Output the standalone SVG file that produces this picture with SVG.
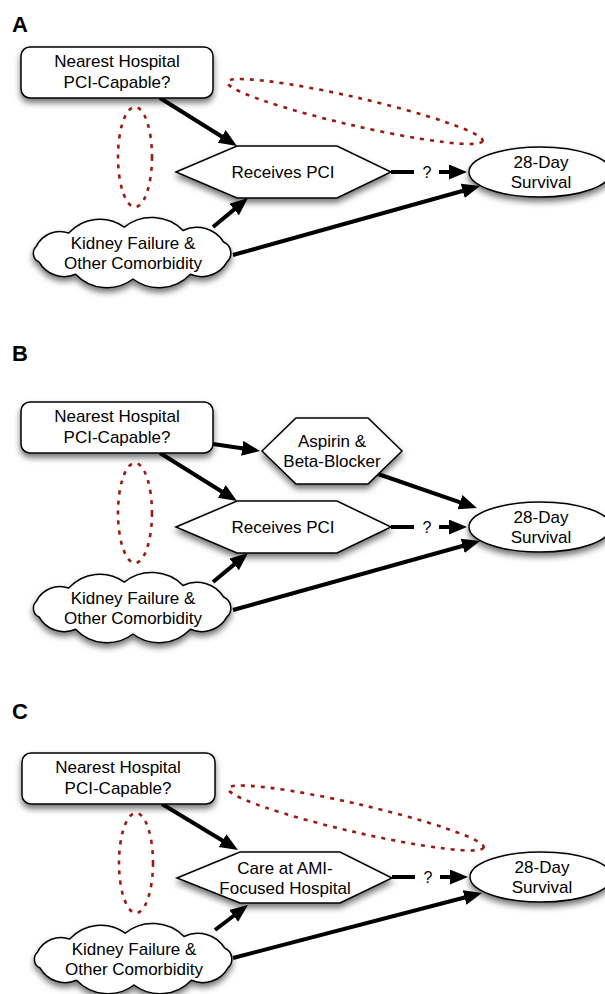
<svg xmlns="http://www.w3.org/2000/svg" xmlns:xlink="http://www.w3.org/1999/xlink" width="605" height="994" viewBox="0 0 605 994">
<style>
.t{font-family:"Liberation Sans",Arial,sans-serif;font-size:17px;text-anchor:middle;fill:#000}
.q{font-family:"Liberation Sans",Arial,sans-serif;font-size:16px;text-anchor:middle;fill:#000}
.lbl{font-family:"Liberation Sans",Arial,sans-serif;font-size:22px;font-weight:bold;fill:#000}
.n{fill:#fff;stroke:#000;stroke-width:1.5;filter:url(#sh)}
.e{stroke:#000;stroke-width:4;fill:none;marker-end:url(#ah)}
.s{stroke:#000;stroke-width:4;fill:none}
.d{fill:none;stroke:#9a1a10;stroke-width:2.6;stroke-dasharray:4 6}
</style>
<defs>
<filter id="sh" x="-20%" y="-30%" width="140%" height="170%">
<feDropShadow dx="0" dy="4" stdDeviation="3" flood-color="#000" flood-opacity="0.55"/>
</filter>
<marker id="ah" markerUnits="userSpaceOnUse" markerWidth="20" markerHeight="16" refX="8" refY="7.5" orient="auto">
<path d="M0,0 L18,7.5 L0,15 z" fill="#000"/>
</marker>
<path id="cloud" d="M -94,8.9 A 9.5 9.5 0 0 1 -96.6,-6.7 A 26.2 26.2 0 0 1 -64.3,-19.9 A 41.9 41.9 0 0 1 -8.7,-25.9 A 44.1 44.1 0 0 1 50,-22.5 A 31.7 31.7 0 0 1 90.6,-11 A 12.1 12.1 0 0 1 94,8.9 A 29 29 0 0 1 57.4,21.3 A 43.2 43.2 0 0 1 0,26 A 43.2 43.2 0 0 1 -57.4,21.3 A 29 29 0 0 1 -94,8.9 Z"/>
</defs>
<rect width="605" height="994" fill="#fff"/>

<!-- Panel A -->
<g id="panelA">
<text class="lbl" x="12" y="32">A</text>
<g id="connectorsA">
<line class="e" x1="160" y1="98" x2="228.5" y2="140.7"/>
<line class="e" x1="213" y1="227" x2="240.3" y2="204.4"/>
<line class="e" x1="233" y1="255" x2="470.4" y2="188.7"/>
<line class="s" x1="391" y1="172" x2="414" y2="172"/>
<text class="q" x="427" y="178">?</text>
<line class="e" x1="439" y1="172" x2="457" y2="172"/>
</g>
<g id="A-nearest"><rect class="n" x="21" y="47" width="192" height="51" rx="9"/><text class="t" x="117" y="67">Nearest Hospital</text><text class="t" x="117" y="88">PCI-Capable?</text></g>
<g id="A-pci"><polygon class="n" points="176,172 237,146 337,146 391,172 337,198 237,198"/><text class="t" x="283" y="178">Receives PCI</text></g>
<g id="A-kidney"><use href="#cloud" xlink:href="#cloud" class="n" transform="translate(133,253)"/><text class="t" x="133" y="249">Kidney Failure &amp;</text><text class="t" x="133" y="269">Other Comorbidity</text></g>
<g id="A-survival"><ellipse class="n" cx="540" cy="172" rx="71" ry="25"/><text class="t" x="541" y="168">28-Day</text><text class="t" x="541" y="188">Survival</text></g>
<g id="A-conf"><ellipse class="d" cx="135" cy="157" rx="17" ry="50"/><ellipse class="d" cx="355" cy="111.5" rx="131" ry="14" transform="rotate(13 355 111.5)"/></g>
</g>

<!-- Panel B -->
<g id="panelB">
<text class="lbl" x="12" y="361">B</text>
<g id="connectorsB">
<line class="e" x1="160" y1="453" x2="228.5" y2="495.7"/>
<line class="e" x1="213" y1="444" x2="250.1" y2="449.5"/>
<line class="e" x1="378" y1="474" x2="467.5" y2="504.8"/>
<line class="e" x1="213" y1="582" x2="240.3" y2="559.4"/>
<line class="e" x1="233" y1="610" x2="470.4" y2="543.7"/>
<line class="s" x1="391" y1="527" x2="414" y2="527"/>
<text class="q" x="427" y="533">?</text>
<line class="e" x1="439" y1="527" x2="457" y2="527"/>
</g>
<g id="B-nearest"><rect class="n" x="21" y="402" width="192" height="51" rx="9"/><text class="t" x="117" y="422">Nearest Hospital</text><text class="t" x="117" y="443">PCI-Capable?</text></g>
<g id="B-aspirin"><polygon class="n" points="262,451 296,418 368,418 402,451 368,484 296,484"/><text class="t" x="332" y="447">Aspirin &amp;</text><text class="t" x="332" y="467">Beta-Blocker</text></g>
<g id="B-pci"><polygon class="n" points="176,527 237,501 337,501 391,527 337,553 237,553"/><text class="t" x="283" y="533">Receives PCI</text></g>
<g id="B-kidney"><use href="#cloud" xlink:href="#cloud" class="n" transform="translate(133,608)"/><text class="t" x="133" y="604">Kidney Failure &amp;</text><text class="t" x="133" y="624">Other Comorbidity</text></g>
<g id="B-survival"><ellipse class="n" cx="540" cy="527" rx="71" ry="25"/><text class="t" x="541" y="523">28-Day</text><text class="t" x="541" y="543">Survival</text></g>
<g id="B-conf"><ellipse class="d" cx="135" cy="513" rx="17" ry="50"/></g>
</g>

<!-- Panel C -->
<g id="panelC">
<text class="lbl" x="12" y="719">C</text>
<g id="connectorsC">
<line class="e" x1="162" y1="804" x2="229.4" y2="844.8"/>
<line class="e" x1="215" y1="930" x2="240" y2="911"/>
<line class="e" x1="233" y1="958" x2="472.3" y2="895.5"/>
<line class="s" x1="392" y1="877" x2="415" y2="877"/>
<text class="q" x="428" y="883">?</text>
<line class="e" x1="440" y1="877" x2="458" y2="877"/>
</g>
<g id="C-nearest"><rect class="n" x="22" y="753" width="193" height="51" rx="9"/><text class="t" x="118" y="773">Nearest Hospital</text><text class="t" x="118" y="794">PCI-Capable?</text></g>
<g id="C-care"><polygon class="n" points="177,878 240,852 340,852 392,878 340,903 240,903"/><text class="t" x="285" y="874">Care at AMI-</text><text class="t" x="285" y="894">Focused Hospital</text></g>
<g id="C-kidney"><use href="#cloud" xlink:href="#cloud" class="n" transform="translate(134,959)"/><text class="t" x="134" y="955">Kidney Failure &amp;</text><text class="t" x="134" y="975">Other Comorbidity</text></g>
<g id="C-survival"><ellipse class="n" cx="541" cy="877" rx="71" ry="25"/><text class="t" x="542" y="873">28-Day</text><text class="t" x="542" y="893">Survival</text></g>
<g id="C-conf"><ellipse class="d" cx="136" cy="863" rx="17" ry="50"/><ellipse class="d" cx="356" cy="818" rx="131" ry="14" transform="rotate(13 356 818)"/></g>
</g>
</svg>
